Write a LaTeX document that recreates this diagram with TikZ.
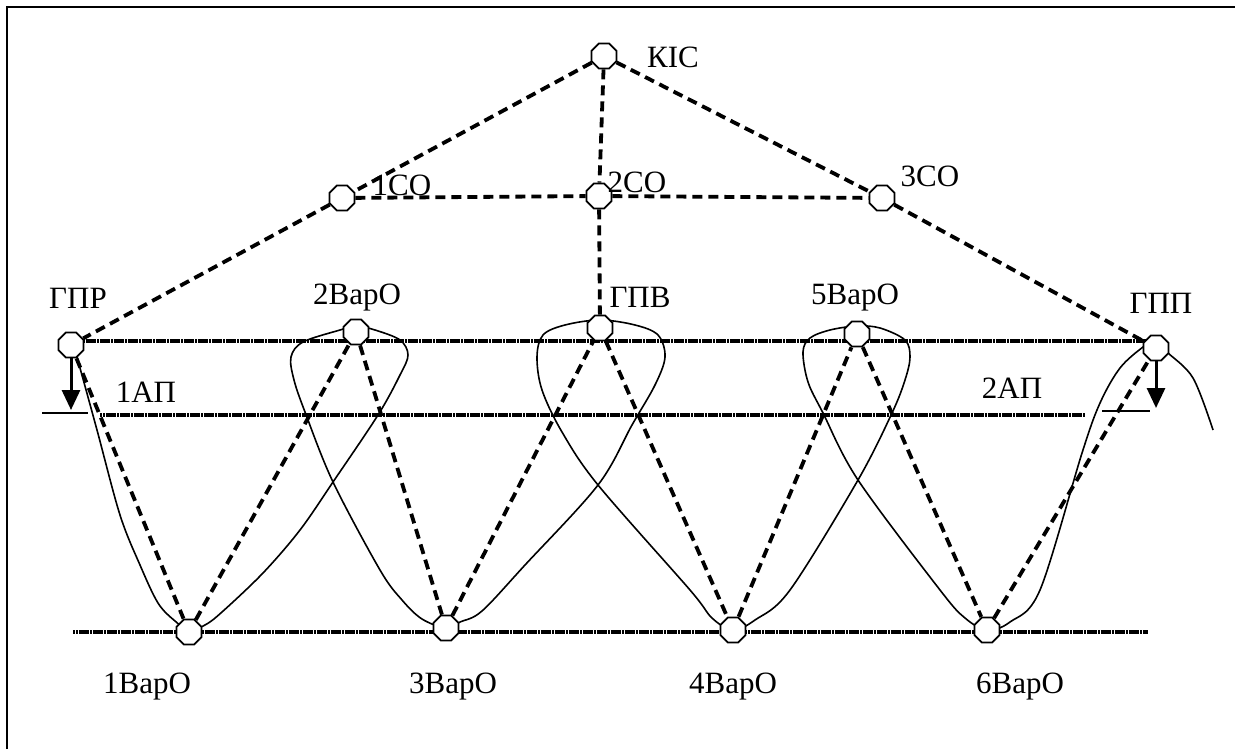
\documentclass[tikz,border=0pt]{standalone}
\usepackage{fontspec}
\setmainfont{Liberation Serif}
\usepackage{tikz}
\usetikzlibrary{shapes.geometric,arrows.meta}
\tikzset{
    post/.style={
           regular polygon,
           regular polygon sides=8,
           draw=black, line width=0.9pt,
           fill=white,
           minimum size=13.5pt,
           inner sep=0pt,
           },
    lbl/.style={
           inner sep=0pt,
           font=\fontsize{15.5}{18}\selectfont,
           },
    dashroute/.style={dash pattern=on 5pt off 3pt, line width=1.9pt},
    hline/.style={line width=2.3pt, dash pattern=on 1.2pt off 0.2pt},
    track/.style={line width=0.8pt},
    droparrow/.style={-{Triangle[length=10pt,width=9pt]}, line width=1.5pt},
}

\begin{document}
\begin{tikzpicture}[x=0.5pt,y=-0.5pt]
    \useasboundingbox (0,0) rectangle (1235,749);
    % frame
    \draw[line width=1.3pt] (7,749) -- (7,7) -- (1235,7);

    % levels
    \coordinate (t1) at (80,341);   \coordinate (t2) at (1147,341);
    \coordinate (m1) at (100,415);  \coordinate (m2) at (1085,415);
    \coordinate (b1) at (73,632);   \coordinate (b2) at (1148,632);
    \draw[hline] (t1) -- (t2);
    \draw[hline] (m1) -- (m2);
    \draw[hline] (b1) -- (b2);

    % route of the walk (solid)
    \draw[track] plot[smooth, tension=0.55] coordinates {
        (77,357) (97,430) (120,515) (140,565) (158,603) (175,621) (189,630)
        (205,625) (222,612) (263,573) (300,530) (333,482) (378,415) (400,375)
        (408,355) (400,340) (375,330) (356,326) (340,330) (303,342) (291,357)
        (294,380) (305,412) (333,482) (380,570) (402,600) (422,619) (446,628)
        (460,622) (482,611) (525,565) (598,485) (632,425) (655,385) (665,357)
        (658,335) (635,325) (600,320) (565,325) (543,335) (537,357)
        (542,390) (562,432) (598,485) (690,590) (712,618) (733,630)
        (755,620) (790,590) (858,480) (892,413) (905,380) (910,357) (905,340)
        (880,328) (857,326) (830,330) (810,338) (803,352) (808,382) (823,413)
        (858,480) (940,590) (965,618) (987,630) (1010,622) (1040,590)
        (1082,453) (1100,403) (1120,368) (1143,347) (1156,340) (1167,352)
        (1193,378) (1213,430)};

    % posts
    \node[post] (KIC) at (604,56) {};
    \node[post] (CO1) at (342,198) {};
    \node[post] (CO2) at (599,196) {};
    \node[post] (CO3) at (882,198) {};
    \node[post] (GPR) at (71,345) {};
    \node[post] (Var2) at (356,332) {};
    \node[post] (GPV) at (600,328) {};
    \node[post] (Var5) at (857,334) {};
    \node[post] (GPP) at (1156,348) {};
    \node[post] (Var1) at (189,632) {};
    \node[post] (Var3) at (446,628) {};
    \node[post] (Var4) at (733,630) {};
    \node[post] (Var6) at (987,630) {};

    % dashed links
    \draw[dashroute] (KIC) -- (CO1);
    \draw[dashroute] (KIC) -- (CO2);
    \draw[dashroute] (KIC) -- (CO3);
    \draw[dashroute] (CO1) -- (CO2);
    \draw[dashroute] (CO2) -- (CO3);
    \draw[dashroute] (CO1) -- (GPR);
    \draw[dashroute] (CO2) -- (GPV);
    \draw[dashroute] (CO3) -- (GPP);
    \draw[dashroute] (GPR) -- (Var1);
    \draw[dashroute] (Var1) -- (Var2);
    \draw[dashroute] (Var2) -- (Var3);
    \draw[dashroute] (Var3) -- (GPV);
    \draw[dashroute] (GPV) -- (Var4);
    \draw[dashroute] (Var4) -- (Var5);
    \draw[dashroute] (Var5) -- (Var6);
    \draw[dashroute] (Var6) -- (GPP);

    % drops at the ends
    \coordinate (d1) at (68,410);   \coordinate (d2) at (1152,408);
    \draw[droparrow] (GPR.south) -- (GPR.south |- d1);
    \draw[line width=0.8pt] (42,413) -- (88,413);
    \draw[droparrow] (GPP.south) -- (GPP.south |- d2);
    \draw[line width=0.8pt] (1102,411) -- (1150,411);

    % labels
    \node[lbl] (lKIC) at (673,57) {КІС};
    \node[lbl] (lCO1) at (402,185) {1СО};
    \node[lbl] (lCO2) at (637,182) {2СО};
    \node[lbl] (lCO3) at (930,176) {3СО};
    \node[lbl] (lGPR) at (78,298) {ГПР};
    \node[lbl] (lVar2) at (357,298) {2ВарО};
    \node[lbl] (lGPV) at (640,297) {ГПВ};
    \node[lbl] (lVar5) at (855,298) {5ВарО};
    \node[lbl] (lGPP) at (1161,303) {ГПП};
    \node[lbl] (lAP1) at (146,392) {1АП};
    \node[lbl] (lAP2) at (1012,388) {2АП};
    \node[lbl] (lVar1) at (147,687) {1ВарО};
    \node[lbl] (lVar3) at (453,687) {3ВарО};
    \node[lbl] (lVar4) at (733,687) {4ВарО};
    \node[lbl] (lVar6) at (1020,687) {6ВарО};
\end{tikzpicture}
\end{document}
